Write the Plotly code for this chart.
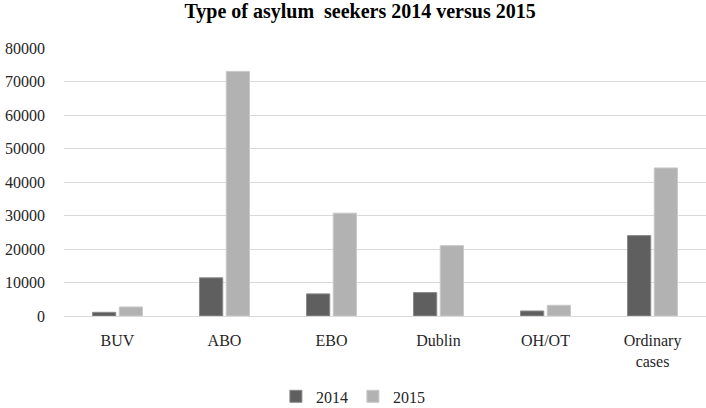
import plotly.graph_objects as go

categories = ["BUV", "ABO", "EBO", "Dublin", "OH/OT", "Ordinary<br>cases"]
values_2014 = [1100, 11400, 6600, 7000, 1500, 24000]
values_2015 = [2700, 73000, 30700, 21000, 3200, 44200]
y_ticks = [0, 10000, 20000, 30000, 40000, 50000, 60000, 70000, 80000]
y_tick_labels = [str(v) for v in y_ticks]

serif = "'Times New Roman', 'Liberation Serif', 'DejaVu Serif', serif"
tick_font = dict(family=serif, size=16, color="#262626")

fig = go.Figure()
fig.add_trace(go.Bar(
    name="2014", x=categories, y=values_2014,
    marker=dict(color="#5f5f5f", line=dict(color="#8a8a8a", width=1)),
))
fig.add_trace(go.Bar(
    name="2015", x=categories, y=values_2015,
    marker=dict(color="#b2b2b2", line=dict(color="#c9c9c9", width=1)),
))

fig.update_layout(
    width=706, height=408,
    margin=dict(l=64, r=0, t=48, b=92, autoexpand=False),
    paper_bgcolor="white", plot_bgcolor="white",
    font=tick_font,
    title=dict(
        text="<b>Type of asylum  seekers 2014 versus 2015</b>",
        x=0.51, xanchor="center", y=0.99, yanchor="top",
        font=dict(family=serif, size=20, color="#000000"),
    ),
    barmode="group", bargap=0.5, bargroupgap=0.13,
    showlegend=True,
    legend=dict(
        orientation="h", x=0.45, xanchor="center", y=-0.30, yanchor="middle",
        font=tick_font, itemwidth=30, tracegroupgap=0,
    ),
    xaxis=dict(
        showgrid=False, showline=True, linecolor="#d9d9d9", linewidth=1,
        ticks="", ticklabelstandoff=10, tickfont=tick_font,
    ),
    yaxis=dict(
        range=[0, 80000], tickvals=y_ticks, ticktext=y_tick_labels,
        showgrid=True, gridcolor="#d9d9d9", gridwidth=1, zeroline=False,
        showline=False, ticks="", ticklabelstandoff=18, tickfont=tick_font,
    ),
)

fig.write_html("out.html")
